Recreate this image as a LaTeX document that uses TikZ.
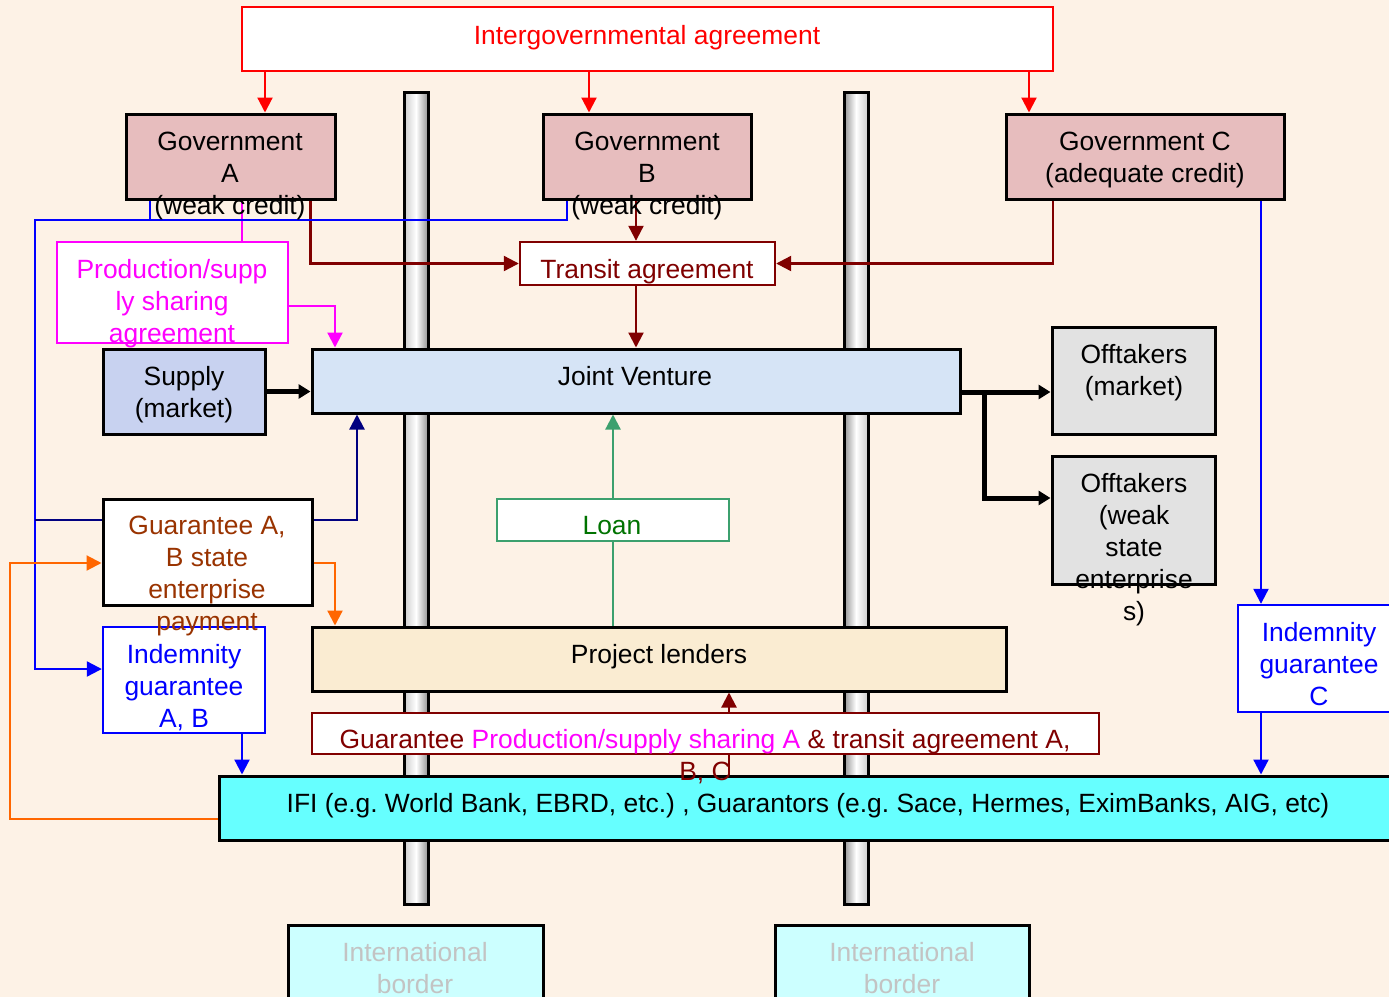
\documentclass[tikz,border=0pt]{standalone}
\usepackage{fontspec}
\setmainfont{Liberation Sans}
\usetikzlibrary{arrows.meta,fit}

\definecolor{paper}{RGB}{253,242,230}
\definecolor{govpink}{RGB}{231,189,190}
\definecolor{jvblue}{RGB}{214,228,246}
\definecolor{supplyblue}{RGB}{200,210,240}
\definecolor{offgray}{RGB}{226,226,226}
\definecolor{lenderbeige}{RGB}{250,236,210}
\definecolor{ificyan}{RGB}{102,255,255}
\definecolor{bordercyan}{RGB}{204,255,255}
\definecolor{darkred}{RGB}{128,0,0}
\definecolor{rust}{RGB}{153,51,0}
\definecolor{pinkline}{RGB}{255,0,255}
\definecolor{loangreen}{RGB}{60,160,110}
\definecolor{loantext}{RGB}{0,115,0}
\definecolor{orangeline}{RGB}{255,102,0}
\definecolor{navyline}{RGB}{0,0,128}
\definecolor{bordertext}{RGB}{195,195,195}

\tikzset{
  box/.style={draw, inner sep=0pt, line width=1.5pt},
  txt/.style={align=center, inner sep=0pt, yshift=-1.5pt, font=\fontsize{13.2}{16}\selectfont},
  ln/.style={line width=1.1pt},
  arr/.style={line width=1.1pt, -{Triangle[length=7.5pt,width=7.5pt]}},
  fat/.style={line width=2.5pt, -{Triangle[length=6pt,width=7pt]}}
}

\begin{document}
\frenchspacing
\begin{tikzpicture}[x=0.5pt, y=-0.5pt]
\useasboundingbox (0,0) rectangle (1389,997);
\clip (0,0) rectangle (1389,997);
\fill[paper] (0,0) rectangle (1389,997);
% Borders
    \shade[draw, line width=1.5pt, left color=gray!40, right color=gray!85, middle color=white] (404,92) rectangle (428,904);
    \shade[draw, line width=1.5pt, left color=gray!85, right color=gray!40, middle color=white] (844,92) rectangle (868,904);
% Boxes
    \node[box, draw=red, line width=1pt, fill=white, fit={(242,7) (1053,71)}] (iga) {};
    \node[box, fill=govpink, fit={(126,114) (335,199)}] (govA) {};
    \node[box, fill=govpink, fit={(543,114) (751,199)}] (govB) {};
    \node[box, fill=govpink, fit={(1006,114) (1284,199)}] (govC) {};
    \node[box, draw=darkred, line width=1.2pt, fill=white, fit={(520,242) (775,285)}] (transit) {};
    \node[box, draw=pinkline, line width=1pt, fill=white, fit={(57,242) (288,343)}] (prod) {};
    \node[box, fill=jvblue, fit={(312,349) (960,413)}] (jv) {};
    \node[box, fill=supplyblue, fit={(103,349) (265,434)}] (supply) {};
    \node[box, fill=offgray, fit={(1052,327) (1215,434)}] (offm) {};
    \node[box, fill=offgray, fit={(1052,456) (1215,584)}] (offw) {};
    \node[box, fill=white, fit={(103,499) (312,605)}] (gab) {};
    \node[box, draw=loangreen, line width=1.2pt, fill=white, fit={(497,499) (729,541)}] (loan) {};
    \node[box, draw=blue, line width=1.2pt, fill=white, fit={(103,627) (265,733)}] (indab) {};
    \node[box, fill=lenderbeige, fit={(312,627) (1006,691)}] (pl) {};
    \node[box, draw=darkred, line width=1.2pt, fill=white, fit={(312,713) (1099,754)}] (gbot) {};
    \node[box, fill=ificyan, fit={(219,776) (1397,840)}] (ifi) {};
    \node[box, draw=blue, line width=1.2pt, fill=white, fit={(1238,605) (1400,712)}] (indc) {};
    \node[box, fill=bordercyan, fit={(288,925) (543,1010)}] (intA) {};
    \node[box, fill=bordercyan, fit={(775,925) (1029,1010)}] (intB) {};
% Agreement arrows
    \draw[arr, red] (265,0 |- iga.south) -- (265,0 |- govA.north);
    \draw[arr, red] (589,0 |- iga.south) -- (589,0 |- govB.north);
    \draw[arr, red] (1029,0 |- iga.south) -- (1029,0 |- govC.north);
    \draw[arr, darkred] (govB.south -| 636,0) -- (636,0 |- transit.north);
    \draw[arr, darkred] (govA.south -| jv.west) |- (transit.west);
    \draw[arr, darkred] (govC.south -| 1053,0) |- (transit.east);
    \draw[arr, darkred] (transit.south -| 636,0) -- (636,0 |- jv.north);
    \draw[ln, pinkline] (govA.south -| 242,0) -- (242,0 |- prod.north);
    \draw[arr, pinkline] (prod.east |- 0,306) -| (335,0 |- jv.north);
% Guarantees
    \draw[arr, blue] (govA.south -| 150,0) |- (35,220) |- (indab.west |- 0,669);
    \draw[ln, blue] (govB.south -| 567,0) |- (150,220);
    \draw[ln, navyline] (gab.west |- 0,520) -- (35,520);
    \draw[arr, navyline] (gab.east |- 0,520) -| (357,0 |- jv.south);
    \draw[arr, orangeline] (ifi.west |- 0,819) -| (10,563) -- (gab.west |- 0,563);
    \draw[arr, orangeline] (gab.east |- 0,563) -| (335,0 |- pl.north);
    \draw[arr, blue] (indab.south -| 242,0) -- (242,0 |- ifi.north);
    \draw[arr, blue] (govC.south -| 1261,0) -- (1261,0 |- indc.north);
    \draw[arr, blue] (indc.south -| 1261,0) -- (1261,0 |- ifi.north);
% Flows
    \coordinate (split) at (984,392);
    \draw[fat] (supply.east) -- (jv.west |- supply.east);
    \draw[fat] (jv.east |- split) -- (offm.west |- split);
    \draw[fat] (split) |- (offw.west |- 0,498);
    \draw[ln, loangreen] (pl.north -| loan.south) -- (loan.south);
    \draw[arr, loangreen] (loan.north) -- (jv.south -| loan.north);
    \draw[arr, darkred] (gbot.north -| 729,0) -- (729,0 |- pl.south);
    \draw[ln, darkred] (gbot.south -| 729,0) -- (729,0 |- ifi.north);
% Labels
    \node[txt, red] (igat) at (647,35) {Intergovernmental agreement};
    \node[txt] (govAt) at (230,173) {Government\\A\\(weak credit)};
    \node[txt] (govBt) at (647,173) {Government\\B\\(weak credit)};
    \node[txt] (govCt) at (1145,157) {Government C\\(adequate credit)};
    \node[txt, darkred] (transitt) at (647,269) {Transit agreement};
    \node[txt, pinkline] (prodt) at (172,301) {Production/supp\\ly sharing\\agreement};
    \node[txt] (jvt) at (635,373) {Joint Venture};
    \node[txt] (supplyt) at (184,392) {Supply\\(market)};
    \node[txt] (offmt) at (1134,370) {Offtakers\\(market)};
    \node[txt] (offwt) at (1134,547) {Offtakers\\(weak\\state\\enterprise\\s)};
    \node[txt, rust] (gabt) at (207,573) {Guarantee A,\\B state\\enterprise\\payment};
    \node[txt, loantext] (loant) at (612,523) {Loan};
    \node[txt, blue] (indabt) at (184,685) {Indemnity\\guarantee\\A, B};
    \node[txt] (plt) at (659,654) {Project lenders};
    \node[txt, darkred] (gbott) at (705,754) {Guarantee {\color{pinkline}Production/supply sharing A} \& transit agreement A,\\B, C};
    \node[txt] (ifit) at (808,803) {IFI (e.g. World Bank, EBRD, etc.) , Guarantors (e.g. Sace, Hermes, EximBanks, AIG, etc)};
    \node[txt, blue] (indct) at (1319,661) {Indemnity\\guarantee\\C};
    \node[txt, bordertext] (intAt) at (415,965) {International\\border};
    \node[txt, bordertext] (intBt) at (902,965) {International\\border};
\end{tikzpicture}
\end{document}
